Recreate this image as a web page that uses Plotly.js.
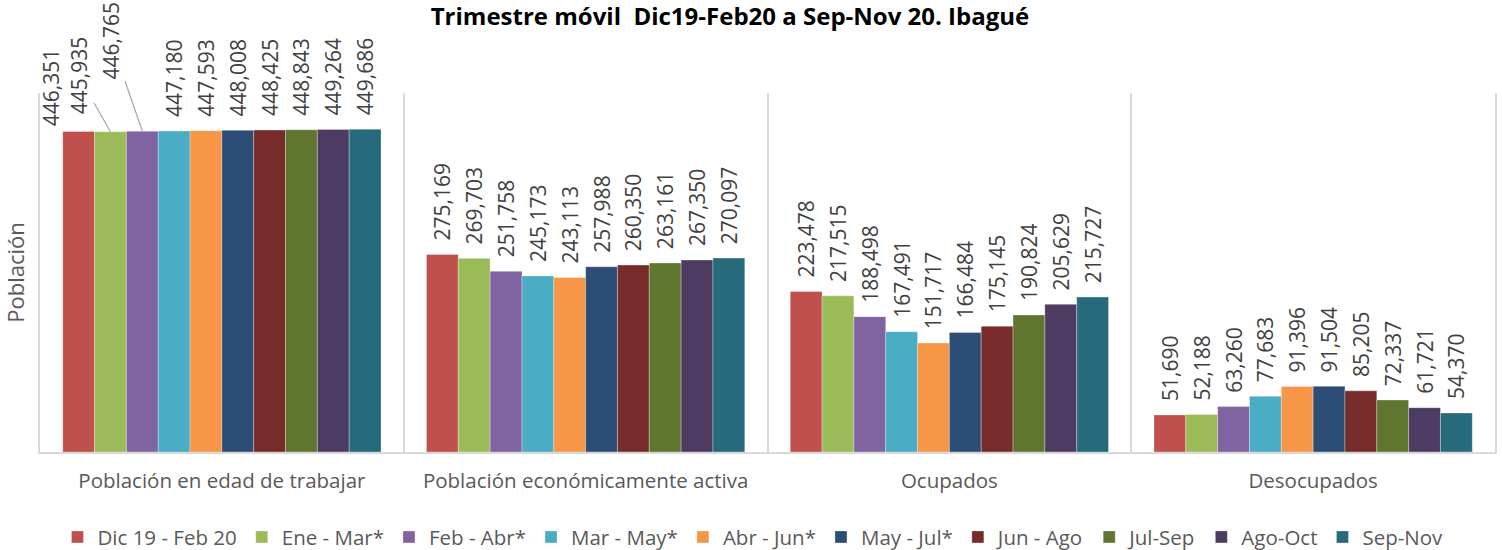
<!DOCTYPE html>
<html>
<head>
<meta charset="utf-8">
<script src="https://cdn.plot.ly/plotly-3.0.1.min.js"></script>
<style>html,body{margin:0;padding:0;background:#fff;}#chart{width:1502px;height:550px;}</style>
</head>
<body>
<div id="chart"></div>
<script>
const categories = ["Población en edad de trabajar", "Población económicamente activa", "Ocupados", "Desocupados"];
const seriesNames = ["Dic 19 - Feb 20", "Ene - Mar*", "Feb - Abr*", "Mar - May*", "Abr - Jun*", "May - Jul*", "Jun - Ago", "Jul-Sep", "Ago-Oct", "Sep-Nov"];
const seriesColors = ["#C0504D", "#9BBB59", "#8064A2", "#4BACC6", "#F79646", "#2C4D75", "#772C2A", "#5F7530", "#4D3B62", "#276A7C"];
const dic19feb20 = [446351, 275169, 223478, 51690];
const eneMar = [445935, 269703, 217515, 52188];
const febAbr = [446765, 251758, 188498, 63260];
const marMay = [447180, 245173, 167491, 77683];
const abrJun = [447593, 243113, 151717, 91396];
const mayJul = [448008, 257988, 166484, 91504];
const junAgo = [448425, 260350, 175145, 85205];
const julSep = [448843, 263161, 190824, 72337];
const agoOct = [449264, 267350, 205629, 61721];
const sepNov = [449686, 270097, 215727, 54370];
const seriesValues = [dic19feb20, eneMar, febAbr, marMay, abrJun, mayJul, junAgo, julSep, agoOct, sepNov];

const FONT = "Open Sans, Liberation Sans, sans-serif";
const PAD = "\u00a0\u00a0";
const LABEL_FONT = {family: FONT, size: 21, color: "#404040"};

// Labels of the first three series in the first group were moved by hand in the original (leader lines)
const movedLabels = [
  {series: 0, ax: -28, ay: -44, line: false},
  {series: 1, ax: -32, ay: -56, line: true},
  {series: 2, ax: -31, ay: -90, line: true}
];
const movedSet = new Set(movedLabels.map(m => m.series));

const traces = seriesValues.map((vals, i) => ({
  type: "bar",
  name: seriesNames[i],
  x: categories,
  y: vals,
  marker: {color: seriesColors[i], line: {color: "rgba(255,255,255,0.6)", width: 0.5}},
  texttemplate: vals.map((v, k) => (k === 0 && movedSet.has(i)) ? "" : PAD + "%{y:,}"),
  textposition: "outside",
  textangle: -90,
  constraintext: "none",
  cliponaxis: false,
  textfont: LABEL_FONT,
  hoverinfo: "name+y"
}));

const plotW = 1502 - 40 - 7;
const bargap = 0.125;
const barW = plotW / categories.length * (1 - bargap) / seriesNames.length;

const annotations = movedLabels.map(m => ({
  x: categories[0], y: seriesValues[m.series][0], xref: "x", yref: "y",
  xshift: (m.series - (seriesNames.length - 1) / 2) * barW,
  text: seriesValues[m.series][0].toLocaleString("en-US"),
  textangle: -90,
  font: LABEL_FONT,
  showarrow: true, arrowhead: 0, arrowwidth: 1.2,
  arrowcolor: m.line ? "#a6a6a6" : "rgba(0,0,0,0)",
  ax: m.ax, ay: m.ay, standoff: 0
}));

const layout = {
  width: 1502, height: 550,
  margin: {l: 40, r: 7, t: 93, b: 98, autoexpand: false},
  paper_bgcolor: "#fff", plot_bgcolor: "#fff",
  barmode: "group",
  bargap: bargap,
  bargroupgap: 0,
  title: {text: "<b>Trimestre móvil  Dic19-Feb20 a Sep-Nov 20. Ibagué</b>", x: 0.486, xanchor: "center", y: 0.969, yanchor: "middle",
          font: {family: FONT, size: 24, color: "#000"}},
  xaxis: {
    type: "category",
    range: [-0.5, categories.length - 0.5],
    autorange: false,
    tickson: "boundaries",
    showgrid: true, gridcolor: "#d9d9d9", gridwidth: 1.5,
    showline: true, linecolor: "#d9d9d9", linewidth: 1.5,
    ticks: "", ticklen: 0,
    ticklabelstandoff: 10,
    automargin: false,
    tickfont: {family: FONT, size: 20.5, color: "#595959"},
    mirror: false
  },
  yaxis: {
    range: [0, 500000],
    autorange: false,
    automargin: false,
    showgrid: false, showticklabels: false, zeroline: false,
    showline: true, linecolor: "#d9d9d9", linewidth: 1.5, mirror: true,
    ticks: "",
    title: {text: "Población", font: {family: FONT, size: 22, color: "#595959"}, standoff: 8}
  },
  legend: {orientation: "h", x: 0.49, xanchor: "center", y: -0.237, yanchor: "middle",
           font: {family: FONT, size: 20.5, color: "#595959"}, traceorder: "normal", itemwidth: 30},
  annotations: annotations,
  showlegend: true
};

Plotly.newPlot("chart", traces, layout, {displayModeBar: false, responsive: false});
</script>
</body>
</html>
